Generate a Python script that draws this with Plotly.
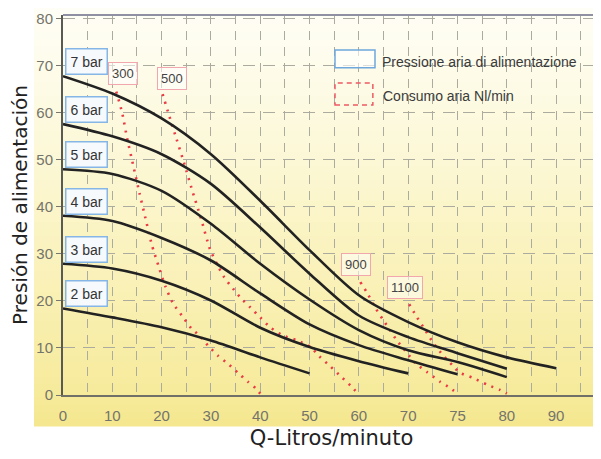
import numpy as np
import plotly.graph_objects as go

# ---------------- data ----------------
# x axis: the printed scale is not linear (0..70 by 10, then 75, 80, 90 at equal spacing)
TICK_Q = [0, 10, 20, 30, 40, 50, 60, 70, 75, 80, 90]
TICK_LABELS = ["0", "10", "20", "30", "40", "50", "60", "70", "75", "80", "90"]
TICK_POS = list(range(len(TICK_Q)))

# pressure curves (air supply pressure), Q in l/min, P = head
Q_7BAR = [0, 10, 20, 30, 40, 50, 60, 70, 75, 80, 90]
P_7BAR = [67.8, 64.1, 58.8, 51.2, 41.3, 30.8, 21.2, 15.5, 11.2, 8.0, 5.7]
Q_6BAR = [0, 10, 20, 30, 40, 50, 60, 70, 75, 80]
P_6BAR = [57.6, 55.0, 51.2, 44.9, 35.6, 25.8, 16.9, 12.3, 8.9, 5.6]
Q_5BAR = [0, 10, 20, 30, 40, 50, 60, 70, 75, 80]
P_5BAR = [48.0, 47.0, 43.4, 36.4, 27.9, 20.3, 13.8, 9.5, 7.0, 3.8]
Q_4BAR = [0, 10, 20, 30, 40, 50, 60, 70, 75]
P_4BAR = [38.1, 37.0, 33.4, 28.6, 21.6, 15.0, 10.6, 7.4, 4.4]
Q_3BAR = [0, 10, 20, 30, 40, 50, 60, 70]
P_3BAR = [27.9, 26.9, 24.3, 20.1, 14.3, 10.2, 7.2, 4.6]
Q_2BAR = [0, 10, 20, 30, 40, 50]
P_2BAR = [18.4, 16.5, 14.4, 11.6, 8.0, 4.6]
PRESSURE_LABELS = ["7 bar", "6 bar", "5 bar", "4 bar", "3 bar", "2 bar"]

# air consumption curves (Nl/min)
Q_300 = [10.8, 12, 13, 14.2, 15.5, 16.7, 18, 19.5, 20.8, 22.3, 24.1, 26, 27.8, 29.5,
         31.5, 33.5, 35.5, 37.5, 39, 40]
P_300 = [64.5, 60, 54.6, 49, 43, 37.7, 32, 27, 23, 19.5, 16.9, 14.2, 12.5, 10.4,
         8.3, 6.6, 4.7, 2.8, 1.5, 0.3]
Q_500 = [20.2, 21.5, 23, 24.5, 26.2, 28, 29.8, 31.2, 32.7, 34.5, 36, 38, 40, 42, 44.5,
         47.5, 50.2, 52, 54, 56.5, 58.5, 59.8]
P_500 = [64, 59.5, 54.5, 49.5, 43.5, 37.5, 31, 27.9, 25, 22.6, 20.7, 18.6, 16.5, 14.4,
         12.7, 11.6, 10.2, 8.2, 6.3, 3.8, 1.8, 0.3]
Q_900 = [60.3, 61.8, 63.3, 64.9, 66.3, 67.7, 69.8, 70.7, 71.9, 73.25, 74.25, 75]
P_900 = [24, 21.5, 18.6, 16.0, 13.8, 11.6, 8.9, 6.8, 4.9, 2.8, 1.5, 0.3]
Q_1100 = [70.1, 70.9, 71.7, 72.5, 73.55, 74.55, 75.25, 76.5, 78, 79.3, 80]
P_1100 = [19.3, 16.5, 13.9, 11.2, 8.4, 6.2, 4.7, 3.7, 2.2, 1.1, 0.3]
CONSUMPTION_LABELS = ["300", "500", "900", "1100"]

LEGEND_TEXT = ["Pressione aria di alimentazione", "Consumo aria Nl/min"]
X_TITLE = "Q-Litros/minuto"
Y_TITLE = "Presión de alimentación"


def pos(q):
    """Place Q values on the chart's (non-linear) printed scale."""
    return np.interp(q, TICK_Q, TICK_POS)


SANS = "Liberation Sans, Arial, sans-serif"
TICK_COLOR = "#74746a"

fig = go.Figure()

pressure = [(Q_7BAR, P_7BAR), (Q_6BAR, P_6BAR), (Q_5BAR, P_5BAR),
            (Q_4BAR, P_4BAR), (Q_3BAR, P_3BAR), (Q_2BAR, P_2BAR)]
consumption = [(Q_300, P_300), (Q_500, P_500), (Q_900, P_900), (Q_1100, P_1100)]

for q, p in consumption:
    fig.add_trace(go.Scatter(x=pos(q), y=p, mode="lines", hoverinfo="skip",
                             line=dict(color="#ea3a44", width=2.6, dash="2px,6px",
                                       shape="spline", smoothing=0.6)))
for q, p in pressure:
    fig.add_trace(go.Scatter(x=pos(q), y=p, mode="lines", hoverinfo="skip",
                             line=dict(color="#222222", width=2.6,
                                       shape="spline", smoothing=0.8)))

annotations = []
for (q, p), lab in zip(pressure, PRESSURE_LABELS):
    annotations.append(dict(x=pos(q[0]), y=p[0], xref="x", yref="y", text=lab,
                            showarrow=False, xanchor="left", yanchor="bottom",
                            xshift=2, yshift=1,
                            font=dict(family=SANS, size=14, color="#333333"),
                            bgcolor="#f7fafd", bordercolor="#86b6e6",
                            borderwidth=1.5, borderpad=4))

label_shift = [(7, 18), (9, 16), (-4, 18), (-4, 17)]
for (q, p), lab, (dx, dy) in zip(consumption, CONSUMPTION_LABELS, label_shift):
    annotations.append(dict(x=pos(q[0]), y=p[0], xref="x", yref="y", text=lab,
                            showarrow=False, xanchor="center", yanchor="middle",
                            xshift=dx, yshift=dy,
                            font=dict(family=SANS, size=13, color="#444444"),
                            bgcolor="rgba(255,255,255,0.55)", bordercolor="#f2a6ae",
                            borderwidth=1, borderpad=3))

# legend text (drawn inside the plot like the original)
annotations.append(dict(x=0.590, y=0.876, xref="paper", yref="paper", text=LEGEND_TEXT[0],
                        showarrow=False, xanchor="left", yanchor="middle",
                        font=dict(family=SANS, size=14, color="#3a3a3a")))
annotations.append(dict(x=0.592, y=0.787, xref="paper", yref="paper", text=LEGEND_TEXT[1],
                        showarrow=False, xanchor="left", yanchor="middle",
                        font=dict(family=SANS, size=14, color="#3a3a3a")))

# ---------------- background gradient (scanned yellow paper) ----------------
shapes = []
stops_py = [5, 60, 150, 250, 330, 400, 426]
stops_rgb = [(255, 254, 247), (254, 252, 236), (252, 248, 216), (250, 243, 191),
             (248, 238, 171), (246, 234, 154), (245, 231, 142)]
PLOT_TOP, PLOT_BOTTOM = 15, 395
n_bands = 60
edges = np.linspace(5, 426, n_bands + 1)
for i in range(n_bands):
    mid = 0.5 * (edges[i] + edges[i + 1])
    rgb = [int(round(np.interp(mid, stops_py, [c[k] for c in stops_rgb]))) for k in range(3)]
    y0 = (PLOT_BOTTOM - edges[i + 1] - 0.5) / (PLOT_BOTTOM - PLOT_TOP)
    y1 = (PLOT_BOTTOM - edges[i] + 0.5) / (PLOT_BOTTOM - PLOT_TOP)
    shapes.append(dict(type="rect", xref="paper", yref="paper", x0=-0.054, x1=1.01,
                       y0=y0, y1=y1, line=dict(width=0), layer="below",
                       fillcolor="rgb(%d,%d,%d)" % tuple(rgb)))

# top border of the chart frame
shapes.append(dict(type="line", xref="paper", yref="paper", x0=0, x1=1, y0=1, y1=1,
                   line=dict(color="#8f91a3", width=2)))
# legend keys
shapes.append(dict(type="rect", xref="paper", yref="paper", x0=0.5065, x1=0.581,
                   y0=0.861, y1=0.908, line=dict(color="#6fa8dc", width=1.5),
                   fillcolor="rgba(255,255,255,0.6)"))
shapes.append(dict(type="rect", xref="paper", yref="paper", x0=0.5065, x1=0.577,
                   y0=0.763, y1=0.821, line=dict(color="#ee5a64", width=1.5, dash="5px,4px")))

# gridlines every half division of the printed scale (labels only on whole divisions)
grid_vals = [v / 2 for v in range(0, 2 * len(TICK_POS) + 1)]
grid_text = [TICK_LABELS[int(v)] if float(v).is_integer() and int(v) < len(TICK_LABELS) else ""
             for v in grid_vals]

GRID = "#ababa0"
fig.update_layout(
    width=593, height=451,
    margin=dict(l=55, r=1, t=7, b=64),
    paper_bgcolor="white", plot_bgcolor="rgba(0,0,0,0)",
    showlegend=False,
    shapes=shapes, annotations=annotations,
    xaxis=dict(range=[0, 10.89], tickmode="array", tickvals=grid_vals, ticktext=grid_text,
               showline=True, linecolor="#707068", linewidth=2, zeroline=False,
               showgrid=True, gridcolor=GRID, gridwidth=1, griddash="9px,7px",
               ticks="", ticklabelstandoff=6,
               tickfont=dict(family=SANS, size=15, color=TICK_COLOR),
               title=dict(text=X_TITLE, standoff=7,
                          font=dict(family="DejaVu Sans", size=21, color="#222222"))),
    yaxis=dict(range=[0, 80.8], tickmode="linear", tick0=0, dtick=10,
               showline=True, linecolor="#5a5a55", linewidth=2, zeroline=False,
               showgrid=True, gridcolor=GRID, gridwidth=1, griddash="12px,8px",
               ticks="outside", ticklen=5, tickcolor="#77776e",
               tickfont=dict(family=SANS, size=15, color=TICK_COLOR),
               title=dict(text=Y_TITLE, standoff=9,
                          font=dict(family="DejaVu Sans", size=20, color="#222222"))),
)

fig.write_html("out.html")
